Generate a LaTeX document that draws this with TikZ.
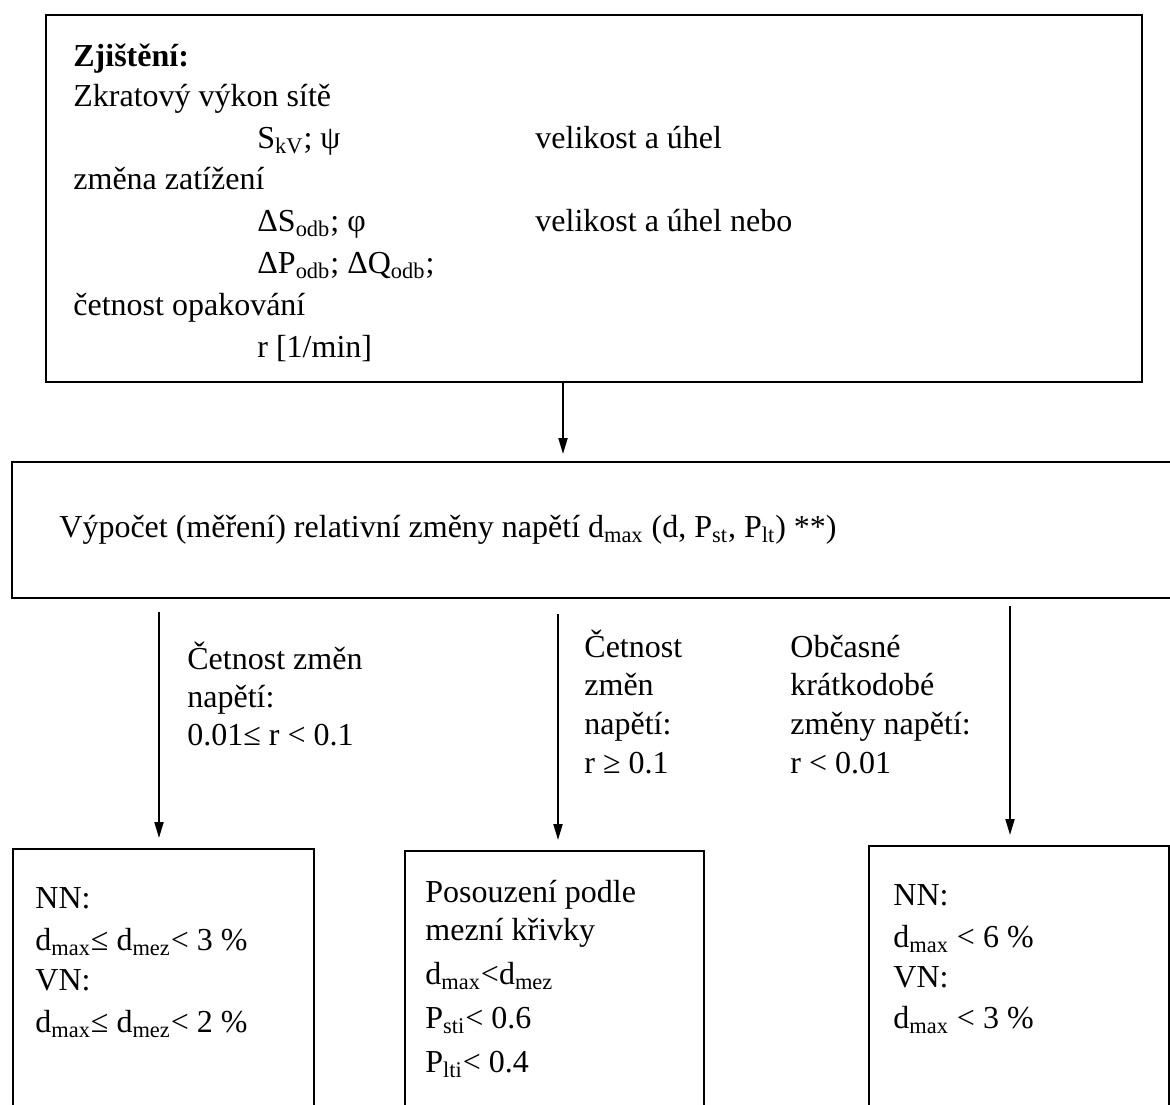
\documentclass[tikz,border=0pt]{standalone}
\usepackage{fontspec}
\setmainfont{Liberation Serif}
\usetikzlibrary{arrows.meta,positioning}

\begin{document}
\begin{tikzpicture}[x=0.5pt, y=-0.5pt,
    font=\fontsize{16}{19}\selectfont,
    box/.style={draw, line width=0.9pt, anchor=north west, inner sep=0pt},
    txt/.style={anchor=base west, inner sep=0pt},
    arr/.style={-{Triangle[length=8pt, width=4.5pt]}, line width=1pt}
  ]
    \useasboundingbox (0,0) rectangle (1170,1104);

    % boxes
    \node[box, minimum width=548pt, minimum height=183.5pt] (zjist) at (45,14) {};
    \node[box, minimum width=585pt, minimum height=68pt] (vypocet) at (11,461) {};
    \node[box, minimum width=150.5pt, minimum height=140pt] (nnvn) at (12,848) {};
    \node[box, minimum width=149.5pt, minimum height=140pt] (krivka) at (404,850) {};
    \node[box, minimum width=150pt, minimum height=140pt] (obcas) at (868,845) {};

    % inputs
    \node[txt] (z0) at (73,66) {\textbf{Zjištění:}};
    \node[txt] (z1) at (73,106) {Zkratový výkon sítě};
    \node[txt] (z2) at (257,148) {S\textsubscript{kV}; ψ};
    \node[txt] (z2t) at (535,148) {velikost a úhel};
    \node[txt] (z3) at (73,189) {změna zatížení};
    \node[txt] (z4) at (257,231) {ΔS\textsubscript{odb}; φ};
    \node[txt] (z4t) at (535,231) {velikost a úhel nebo};
    \node[txt] (z5) at (257,273) {ΔP\textsubscript{odb}; ΔQ\textsubscript{odb};};
    \node[txt] (z6) at (73,315) {četnost opakování};
    \node[txt] (z7) at (257,357) {r [1/min]};

    \node[txt] (v1) at (59,537) {Výpočet (měření) relativní změny napětí d\textsubscript{max} (d, P\textsubscript{st}, P\textsubscript{lt}) **)};

    % conditions
    \node[txt] (c1a) at (187,669) {Četnost změn};
    \node[txt] (c1b) at (187,707) {napětí:};
    \node[txt] (c1c) at (187,745) {0.01≤ r < 0.1};
    \node[txt] (c2a) at (584,657) {Četnost};
    \node[txt] (c2b) at (584,695) {změn};
    \node[txt] (c2c) at (584,734) {napětí:};
    \node[txt] (c2d) at (584,773) {r ≥ 0.1};
    \node[txt] (c3a) at (790,657) {Občasné};
    \node[txt] (c3b) at (790,695) {krátkodobé};
    \node[txt] (c3c) at (790,734) {změny napětí:};
    \node[txt] (c3d) at (790,773) {r < 0.01};

    % limits
    \node[txt] (n1) at (35,908) {NN:};
    \node[txt] (n2) at (35,950) {d\textsubscript{max}≤ d\textsubscript{mez}< 3 \%};
    \node[txt] (n3) at (35,990) {VN:};
    \node[txt] (n4) at (35,1032) {d\textsubscript{max}≤ d\textsubscript{mez}< 2 \%};
    \node[txt] (k1) at (425,902) {Posouzení podle};
    \node[txt] (k2) at (425,940) {mezní křivky};
    \node[txt] (k3) at (425,984) {d\textsubscript{max}<d\textsubscript{mez}};
    \node[txt] (k4) at (425,1028) {P\textsubscript{sti}< 0.6};
    \node[txt] (k5) at (425,1072) {P\textsubscript{lti}< 0.4};
    \node[txt] (o1) at (893,905) {NN:};
    \node[txt] (o2) at (893,947) {d\textsubscript{max} < 6 \%};
    \node[txt] (o3) at (893,987) {VN:};
    \node[txt] (o4) at (893,1028) {d\textsubscript{max} < 3 \%};

    % arrows
    \coordinate (t0) at (563,454);
    \coordinate (s1) at (159,612);
    \coordinate (s2) at (558,614);
    \coordinate (s3) at (1010,606);
    \draw[arr] (t0 |- zjist.south) -- (t0);
    \foreach \s/\b in {s1/nnvn, s2/krivka, s3/obcas}
      \draw[arr, shorten >=5pt] (\s) -- (\s |- \b.north);
  \end{tikzpicture}
\end{document}
